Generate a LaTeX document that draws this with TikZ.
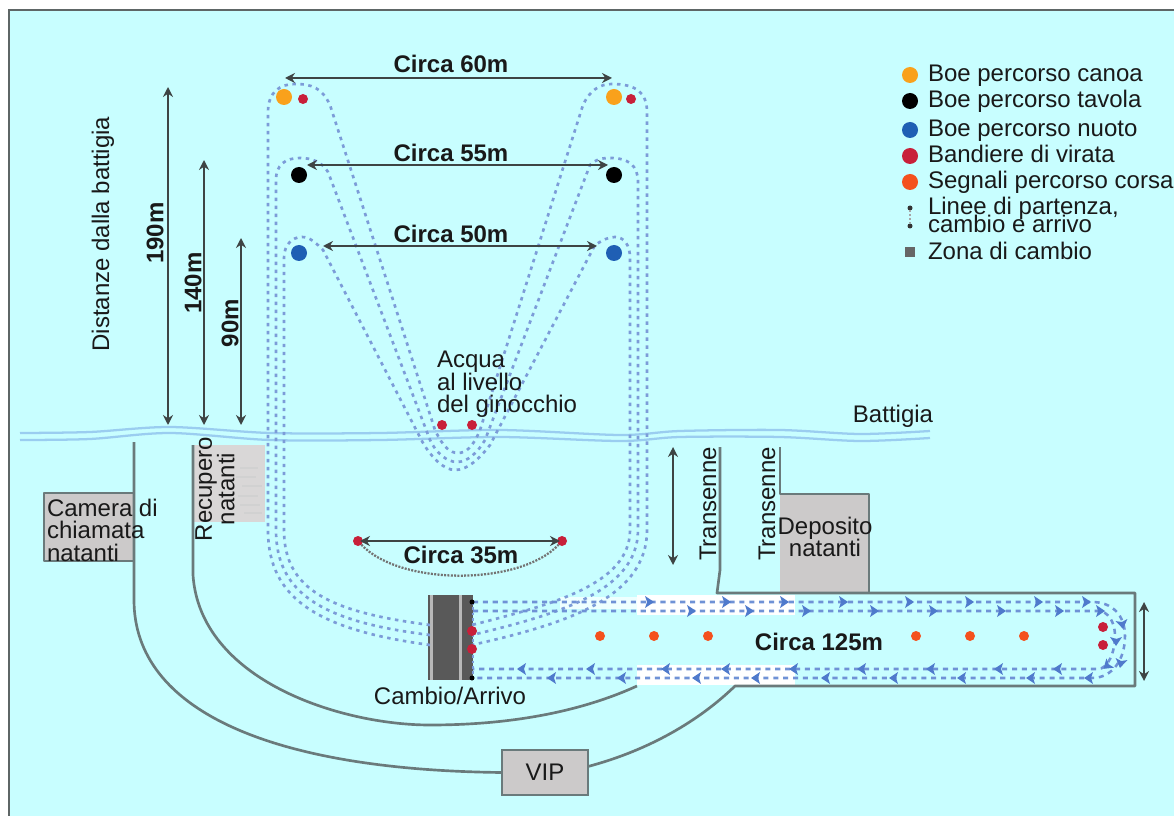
\documentclass[tikz,border=0pt]{standalone}
\usepackage{fontspec}
\setmainfont{Liberation Sans}
\usetikzlibrary{arrows.meta}
\definecolor{sea}{HTML}{C8FEFF}
\definecolor{frameC}{HTML}{5E6666}
\definecolor{wallC}{HTML}{6A7A7B}
\definecolor{shoreC}{HTML}{9ACDF0}
\definecolor{pathC}{HTML}{7C9CD8}
\definecolor{runC}{HTML}{6F92D6}
\definecolor{chevC}{HTML}{4F7ACC}
\definecolor{boxC}{HTML}{CCCACA}
\definecolor{dimC}{HTML}{3E4444}
\definecolor{oc}{HTML}{F9A11B}
\definecolor{bc}{HTML}{1F5FB4}
\definecolor{rc}{HTML}{C8203A}
\definecolor{sc}{HTML}{F4511E}
\tikzset{
 x=.75pt,y=-.75pt,
 txt/.style={inner sep=0pt,outer sep=0pt,text=black!90,font=\fontsize{18}{16.9}\selectfont},
 bold/.style={txt,font=\fontsize{18}{16.9}\selectfont\bfseries},
 dot/.style={circle,inner sep=0pt,outer sep=0pt,draw=none,minimum size=#1*.75pt},
 wall/.style={draw=wallC,line width=2pt,line join=round},
 lap/.style={draw=pathC,line width=2pt,dash pattern=on 2.6pt off 3.4pt},
 runlap/.style={draw=runC,line width=1.9pt,dash pattern=on 3.8pt off 3.6pt},
 dim/.style={draw=dimC,line width=1.5pt,{Stealth[length=7.5pt,width=7.5pt]}-{Stealth[length=7.5pt,width=7.5pt]}},
 chev/.style={fill=chevC,draw=none},
 shore/.style={draw=shoreC,line width=1.7pt}
}
\begin{document}
\begin{tikzpicture}
\useasboundingbox (0,0) rectangle (1174,816);
\fill[white] (0,0) rectangle (1174,816);
\fill[sea] (9,10) rectangle (1174,816);
\draw[frameC,line width=2pt] (9,816) -- (9,10) -- (1174,10);

% grey areas
\fill[boxC!75!white] (193,445) rectangle (265,522);
\foreach \yy/\xa/\xb in {468/240/258,477/236/256,486/242/262,496/238/258,505/240/260,513/244/262}
  \draw[black!18,line width=1.2pt] (\xa,\yy) -- (\xb,\yy);
\fill[boxC] (44,493) rectangle (134,561);
\fill[boxC] (780,494) rectangle (869,593);

% white patches on the run
\fill[white!70!sea] (560,597) rectangle (637,609);
\fill[white] (637,595) rectangle (795,615);
\fill[white] (637,665) rectangle (795,685);

% barriers
\coordinate (wa1) at (134,442); \coordinate (wa2) at (134,600);
\coordinate (wb1) at (193,445); \coordinate (wb2) at (193,575);
\node[txt,fill=boxC,draw=wallC,line width=2pt,minimum width=64.5pt,minimum height=33.75pt] (vip) at (545,772.5) {VIP};
\draw[wall] (wa1) -- (wa2) .. controls (134,710) and (270,770) .. (vip.west);
\draw[wall] (vip.east) ++(0,-6) .. controls (650,750) and (700,720) .. (735,686) -- (1135,686) -- (1135,593) -- (717,593) -- (720,570) -- (720,447);
\draw[wall] (wb1) -- (wb2) .. controls (200,680) and (340,725) .. (430,725) .. controls (510,725) and (580,712) .. (637,686);
\draw[wall] (134,493) -- (44,493) -- (44,561) -- (134,561);
\draw[wall] (780,447) -- (780,494) -- (869,494) -- (869,593);

% shoreline
\draw[shore] plot[smooth] coordinates {(20,433) (90,432) (170,427) (270,433) (380,433) (500,430) (620,435) (680,431) (780,430) (860,434) (930,431)};
\draw[shore] plot[smooth] coordinates {(20,440) (90,439) (170,433) (270,440) (380,440) (500,437) (620,441) (680,437) (780,437) (860,441) (930,438)};

% transition zone
\fill[black!65] (428,595) rectangle (473,680);
\fill[black!28] (430,595) rectangle (433,680);
\fill[black!28] (459,595) rectangle (462,680);
\draw[draw=pathC,line width=1pt,dash pattern=on 2pt off 2pt] (473,602) -- (473,678);

% swim / board / canoe laps
\draw[lap] (430,645) .. controls (320,630) and (268,600) .. (268,530) -- (268,112) .. controls (268,92) and (280,84) .. (295,84) .. controls (312,84) and (322,88) .. (330,105) -- (435,430) .. controls (443,447) and (450,453) .. (458,453) .. controls (466,453) and (473,447) .. (480,430) -- (583,105) .. controls (590,90) and (600,84) .. (612,84) .. controls (635,84) and (647,92) .. (647,112) -- (647,530) .. controls (647,600) and (560,625) .. (472,645);
\draw[lap] (430,635) .. controls (325,622) and (276,595) .. (276,530) -- (276,180) .. controls (276,165) and (285,158) .. (300,158) .. controls (312,158) and (322,162) .. (328,172) -- (430,440) .. controls (436,453) and (447,462) .. (457,462) .. controls (468,462) and (478,452) .. (485,440) -- (590,165) .. controls (595,160) and (600,158) .. (610,158) .. controls (628,158) and (638,165) .. (638,182) -- (638,530) .. controls (638,592) and (555,615) .. (472,635);
\draw[lap] (430,625) .. controls (330,612) and (284,590) .. (284,530) -- (284,258) .. controls (284,245) and (292,237) .. (302,237) .. controls (310,237) and (316,243) .. (323,250) -- (423,443) .. controls (432,458) and (444,470) .. (455,470) .. controls (468,470) and (480,458) .. (490,445) -- (595,245) .. controls (603,240) and (608,237) .. (615,237) .. controls (624,237) and (630,245) .. (630,258) -- (630,530) .. controls (630,585) and (550,605) .. (472,625);

% run laps
\draw[runlap] (473,602) -- (1092,602) .. controls (1112,602) and (1125,615) .. (1125,636) .. controls (1125,660) and (1112,678) .. (1092,678) -- (473,678);
\draw[runlap] (473,611) -- (1098,611) .. controls (1108,611) and (1115,622) .. (1115,636) .. controls (1115,652) and (1108,669) .. (1098,669) -- (473,669);
\foreach \xx in {648,725,783,842,908,968,1037,1085}
  \fill[chev,shift={(\xx,602)}] (6,0) -- (-3,-6) -- (-1,0) -- (-3,6) -- cycle;
\foreach \xx in {690,748,805,873,932,1000,1058,1099}
  \fill[chev,shift={(\xx,611)}] (6,0) -- (-3,-6) -- (-1,0) -- (-3,6) -- cycle;
\foreach \xx in {523,592,667,727,795,863,932,1000,1059}
  \fill[chev,shift={(\xx,669)}] (-6,0) -- (3,-6) -- (1,0) -- (3,6) -- cycle;
\foreach \xx in {553,623,698,757,827,895,963,1032,1090}
  \fill[chev,shift={(\xx,678)}] (-6,0) -- (3,-6) -- (1,0) -- (3,6) -- cycle;
\foreach \xx/\yy/\aa in {1122/623/-80,1116/640/-90,1121/662/-100,1108/665/-140}
  \fill[chev,shift={(\xx,\yy)},rotate=\aa] (6,0) -- (-3,-6) -- (-1,0) -- (-3,6) -- cycle;

% buoys
\node[dot=16,fill=oc] (oL) at (284,97) {};
\node[dot=16,fill=oc] (oR) at (614,97) {};
\node[dot=10,fill=rc] (rL) at (303,99) {};
\node[dot=10,fill=rc] (rR) at (631,99) {};
\node[dot=16,fill=black] (kL) at (299,175) {};
\node[dot=16,fill=black] (kR) at (614,175) {};
\node[dot=16,fill=bc] (bL) at (299,253) {};
\node[dot=16,fill=bc] (bR) at (614,253) {};
\node[dot=10,fill=rc] (k1) at (442,425) {};
\node[dot=10,fill=rc] (k2) at (472,425) {};
\node[dot=10,fill=rc] (d1) at (358,541) {};
\node[dot=10,fill=rc] (d2) at (562,541) {};
\node[dot=10,fill=rc] (z1) at (472,631) {};
\node[dot=10,fill=rc] (z2) at (472,649) {};
\node[dot=5,fill=black] (zt) at (472,602) {};
\node[dot=5,fill=black] (zb) at (472,678) {};
\node[dot=10,fill=rc] (e1) at (1103,627) {};
\node[dot=10,fill=rc] (e2) at (1103,645) {};
\foreach \xx/\nn in {600/s1,654/s2,708/s3,916/s4,970/s5,1024/s6}
  \node[dot=10,fill=sc] (\nn) at (\xx,636) {};

% dimension arrows
\coordinate (a60l) at (285,78); \coordinate (a60r) at (612,78);
\coordinate (a55l) at (307,165); \coordinate (a55r) at (608,165);
\coordinate (a50l) at (323,246); \coordinate (a50r) at (597,246);
\coordinate (a35l) at (360,541); \coordinate (a35r) at (560,541);
\coordinate (v190t) at (168,87); \coordinate (v190b) at (168,425);
\coordinate (v140t) at (204,160); \coordinate (v140b) at (204,425);
\coordinate (v90t) at (241,238); \coordinate (v90b) at (241,425);
\coordinate (vTt) at (673,447); \coordinate (vTb) at (673,565);
\coordinate (vRt) at (1144,602); \coordinate (vRb) at (1144,681);
\draw[dim] (a60l) -- (a60r);
\draw[dim] (a55l) -- (a55r);
\draw[dim] (a50l) -- (a50r);
\draw[dim] (a35l) -- (a35r);
\draw[dim] (v190t) -- (v190b);
\draw[dim] (v140t) -- (v140b);
\draw[dim] (v90t) -- (v90b);
\draw[dim] (vTt) -- (vTb);
\draw[dim] (vRt) -- (vRb);
\draw[black!55,line width=1.7pt,dash pattern=on 1.5pt off 1pt] (d1) .. controls (400,586) and (520,586) .. (d2);

% labels
\node[bold] (t60) at (451,64) {Circa 60m};
\node[bold] (t55) at (451,153) {Circa 55m};
\node[bold] (t50) at (451,234) {Circa 50m};
\node[bold] (t35) at (461,555) {Circa 35m};
\node[bold] (t125) at (819,642) {Circa 125m};
\node[bold,rotate=90] (t190) at (155,233) {190m};
\node[bold,rotate=90] (t140) at (193,283) {140m};
\node[bold,rotate=90] (t90) at (230,323) {90m};
\node[txt,rotate=90] (tdist) at (103,234) {Distanze dalla battigia};
\node[txt,align=left,anchor=north west] (tacq) at (437,351) {Acqua\\al livello\\del ginocchio};
\node[txt] (tbat) at (893,416) {Battigia};
\node[txt,align=left,anchor=north west] (tcam) at (47,499) {Camera di\\chiamata\\natanti};
\node[txt,align=center,rotate=90] (trec) at (215,489) {Recupero\\natanti};
\node[txt,rotate=90] (ttr1) at (708,504) {Transenne};
\node[txt,rotate=90] (ttr2) at (767,504) {Transenne};
\node[txt,align=center] (tdep) at (825,537) {Deposito\\natanti};
\node[txt] (tcam2) at (450,696) {Cambio/Arrivo};

% legend
\node[dot=16,fill=oc] (l1) at (910,75) {};
\node[dot=16,fill=black] (l2) at (910,101) {};
\node[dot=16,fill=bc] (l3) at (910,130) {};
\node[dot=16,fill=rc] (l4) at (910,156) {};
\node[dot=16,fill=sc] (l5) at (910,182) {};
\node[dot=5,fill=black!80] (l6a) at (910,208) {};
\node[dot=5,fill=black!80] (l6b) at (910,226) {};
\draw[black!35,line width=1pt,dash pattern=on 1.5pt off 1.5pt] (l6a) -- (l6b);
\node[fill=black!60,inner sep=0pt,minimum size=8pt] (l7) at (910,252) {};
\node[txt,anchor=base west] (lt1) at (928,82) {Boe percorso canoa};
\node[txt,anchor=base west] (lt2) at (928,108) {Boe percorso tavola};
\node[txt,anchor=base west] (lt3) at (928,137) {Boe percorso nuoto};
\node[txt,anchor=base west] (lt4) at (928,163) {Bandiere di virata};
\node[txt,anchor=base west] (lt5) at (928,189) {Segnali percorso corsa};
\node[txt,anchor=base west] (lt6) at (928,215) {Linee di partenza,};
\node[txt,anchor=base west] (lt7) at (928,233) {cambio e arrivo};
\node[txt,anchor=base west] (lt8) at (928,260) {Zona di cambio};
\end{tikzpicture}
\end{document}
